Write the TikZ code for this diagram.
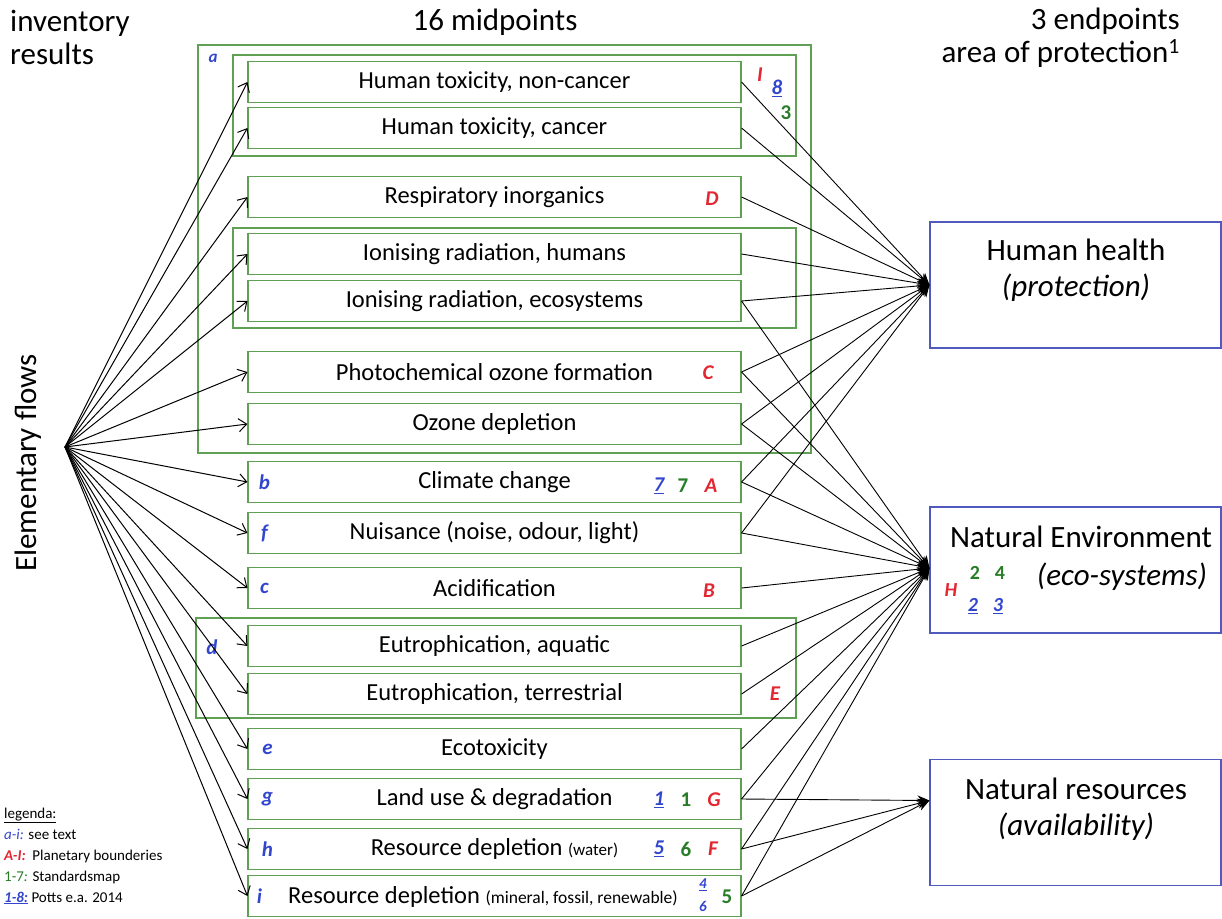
\documentclass[tikz,border=0pt]{standalone}
\usepackage{fontspec}
\setmainfont{Carlito}
\usetikzlibrary{arrows.meta}

\definecolor{boxgreen}{RGB}{96,160,84}
\definecolor{tagblue}{RGB}{50,70,205}
\definecolor{tagred}{RGB}{225,40,50}
\definecolor{taggreen}{RGB}{40,125,40}
\definecolor{epblue}{RGB}{80,90,190}

\newcommand{\potts}[1]{\underline{#1}}

\tikzset{
  midbox/.style={draw=boxgreen, line width=1.1pt, minimum width=493pt, minimum height=41pt,
    inner sep=0pt, font=\fontsize{24.5}{27}\selectfont},
  endbox/.style={draw=epblue, line width=1.1pt, minimum width=291pt, minimum height=126pt, inner sep=0pt},
  group/.style={draw=boxgreen, line width=1.1pt},
  title/.style={font=\fontsize{31}{33}\selectfont, inner sep=0pt},
  eptext/.style={font=\fontsize{31}{36}\selectfont, align=center, inner sep=0pt},
  letter/.style={text=tagblue, font=\fontsize{21}{24}\selectfont\itshape\bfseries, inner sep=0pt},
  pbtag/.style={text=tagred, font=\fontsize{21}{24}\selectfont\itshape\bfseries, inner sep=0pt},
  smtag/.style={text=taggreen, font=\fontsize{21}{24}\selectfont\bfseries, inner sep=0pt},
  pottag/.style={text=tagblue, font=\fontsize{21}{24}\selectfont\itshape\bfseries, inner sep=0pt},
  flow/.style={-{Straight Barb[length=8pt,width=13pt]}, line width=1pt},
  impact/.style={-{Stealth[length=12pt,width=10pt]}, line width=0.9pt},
}

\begin{document}
\begin{tikzpicture}[x=1pt,y=-1pt]
\useasboundingbox (0,0) rectangle (1222,918);

% headings
\node[title, align=left, anchor=west] (inv) at (10,37) {inventory\\results};
\node[title] (mids) at (495,22) {16 midpoints};
\node[title, align=right, anchor=east] (ends) at (1180,38) {3 endpoints\\area of protection\textsuperscript{1}};
\node[title, rotate=90] (elem) at (28,463) {Elementary flows};
\coordinate (ef) at (65,447);

% groups of midpoints
\draw[group] (198,45) rectangle (811,453);
\draw[group] (233,55) rectangle (796,156);
\draw[group] (233,228) rectangle (796,328);
\draw[group] (196,618) rectangle (796,718);
\node[letter, font=\fontsize{17}{20}\selectfont\itshape\bfseries] at (213,58) {a};
\node[letter] at (212,647) {d};

% midpoints
\node[midbox] (hnc) at (494.5,82) {Human toxicity, non-cancer};
\node[midbox] (hc) at (494.5,128) {Human toxicity, cancer};
\node[midbox] (resp) at (494.5,197) {Respiratory inorganics};
\node[midbox] (ionh) at (494.5,254) {Ionising radiation, humans};
\node[midbox] (ione) at (494.5,301) {Ionising radiation, ecosystems};
\node[midbox] (photo) at (494.5,372) {Photochemical ozone formation};
\node[midbox] (ozone) at (494.5,424) {Ozone depletion};
\node[midbox] (climate) at (494.5,482) {Climate change};
\node[midbox] (nuis) at (494.5,533) {Nuisance (noise, odour, light)};
\node[midbox] (acid) at (494.5,588) {Acidification};
\node[midbox] (eutra) at (494.5,646) {Eutrophication, aquatic};
\node[midbox] (eutrt) at (494.5,694) {Eutrophication, terrestrial};
\node[midbox] (ecotox) at (494.5,749) {Ecotoxicity};
\node[midbox] (land) at (494.5,799) {Land use \& degradation};
\node[midbox] (water) at (494.5,849) {Resource depletion {\fontsize{17}{20}\selectfont(water)}};
\node[midbox] (mineral) at (494.5,896) {};
\node[font=\fontsize{24.5}{27}\selectfont, inner sep=0pt] (mintext) at (483,897)
  {Resource depletion {\fontsize{17.5}{20}\selectfont(mineral, fossil, renewable)}};

% letters a-i
\node[letter] at ([xshift=17pt]climate.west) {b};
\node[letter] at ([xshift=17pt]nuis.west) {f};
\node[letter] at ([xshift=17pt]acid.west) {c};
\node[letter] at ([xshift=20pt]ecotox.west) {e};
\node[letter] at ([xshift=20pt]land.west) {g};
\node[letter] at ([xshift=20pt]water.west) {h};
\node[letter] at ([xshift=12pt]mineral.west) {i};

% planetary boundaries, standardsmap, Potts
\node[pbtag] at (760,75) {I};
\node[pottag] at (777,88) {\potts{8}};
\node[smtag] at (786,113) {3};
\node[pbtag] at (712,199) {D};
\node[pbtag] at (708,373) {C};
\node[pottag] at (659,486) {\potts{7}};
\node[smtag] at (683,486) {7};
\node[pbtag] at (711,486) {A};
\node[pbtag] at (709,591) {B};
\node[pbtag] at (775,694) {E};
\node[pottag] at (659,800) {\potts{1}};
\node[smtag] at (686,800) {1};
\node[pbtag] at (714,800) {G};
\node[pottag] at (659,849) {\potts{5}};
\node[smtag] at (686,849) {6};
\node[pbtag] at (713,849) {F};
\node[pottag, font=\fontsize{15}{17}\selectfont\itshape\bfseries] at (703,885) {\potts{4}};
\node[pottag, font=\fontsize{15}{17}\selectfont\itshape\bfseries] at (703,906) {6};
\node[smtag] at (727,897) {5};

% endpoints
\node[endbox] (hh) at (1075.5,285) {};
\node[endbox] (ne) at (1075.5,570) {};
\node[endbox] (nr) at (1075.5,822.5) {};
\node[eptext] at (1076,270) {Human health\\\textit{(protection)}};
\node[eptext] at (1081,537) {Natural Environment};
\node[eptext] at (1122,577) {\textit{(eco-systems)}};
\node[eptext] at (1076,809) {Natural resources\\\textit{(availability)}};
\node[pbtag, font=\fontsize{20}{22}\selectfont\itshape\bfseries] at (951,590) {H};
\node[smtag, font=\fontsize{20}{22}\selectfont\bfseries] at (975,573) {2};
\node[smtag, font=\fontsize{20}{22}\selectfont\bfseries] at (1000,573) {4};
\node[pottag, font=\fontsize{20}{22}\selectfont\itshape\bfseries] at (973,606) {\potts{2}};
\node[pottag, font=\fontsize{20}{22}\selectfont\itshape\bfseries] at (998,606) {\potts{3}};
\coordinate (hhin) at (hh.west);
\coordinate (nein) at ([yshift=2pt]ne.west);
\coordinate (nrin) at ([yshift=22pt]nr.west);

% inventory -> midpoints
\foreach \m in {hnc,hc,resp,ionh,ione,photo,ozone,climate,nuis,acid,eutra,eutrt,ecotox,land,water,mineral}
  \draw[flow] (ef) -- (\m.west);

% midpoints -> endpoints
\foreach \m in {hnc,hc,resp,ionh,ione,photo,ozone,climate,nuis}
  \draw[impact] (\m.east) -- (hhin);
\foreach \m in {ione,photo,ozone,climate,nuis,acid,eutra,eutrt,ecotox,land,water,mineral}
  \draw[impact] (\m.east) -- (nein);
\foreach \m in {land,water,mineral}
  \draw[impact] (\m.east) -- (nrin);

% legend
\node[font=\fontsize{15}{21}\selectfont, align=left, anchor=west, inner sep=0pt] (legend) at (4,856)
  {\underline{legenda:}\\
   {\color{tagblue}\itshape a-i:} see text\\
   {\color{tagred}\itshape\bfseries A-I:}\ \ Planetary bounderies\\
   {\color{taggreen}1-7\textit{:}} Standardsmap\\
   {\color{tagblue}\itshape\bfseries\potts{1-8:}} Potts e.a. 2014};
\end{tikzpicture}
\end{document}
